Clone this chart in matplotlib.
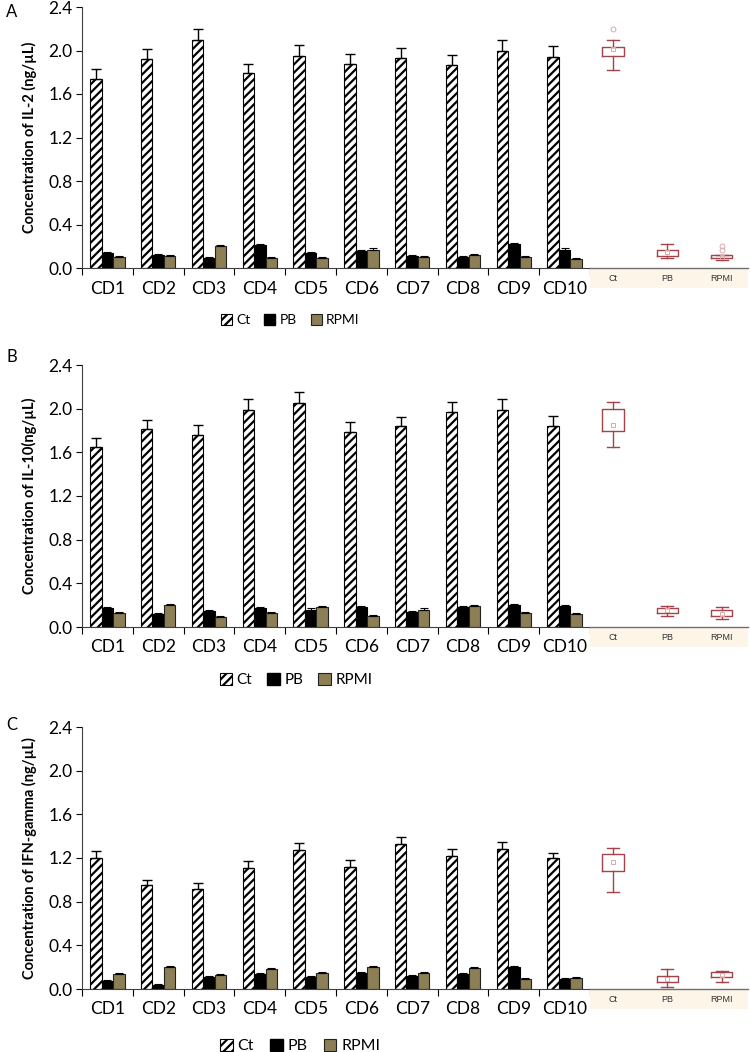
import matplotlib
matplotlib.use("Agg")
import matplotlib.pyplot as plt
from matplotlib.patches import Patch, Rectangle
import numpy as np

plt.rcParams['font.family'] = ['Lato', 'DejaVu Sans']
plt.rcParams['hatch.linewidth'] = 1.6

categories = ["CD1", "CD2", "CD3", "CD4", "CD5", "CD6", "CD7", "CD8", "CD9", "CD10"]
series_names = ["Ct", "PB", "RPMI"]

# Panel A: IL-2
il2_ct = [1.74, 1.92, 2.10, 1.79, 1.95, 1.88, 1.93, 1.87, 2.00, 1.94]
il2_ct_err = [0.09, 0.09, 0.10, 0.09, 0.10, 0.09, 0.09, 0.09, 0.10, 0.10]
il2_pb = [0.14, 0.12, 0.09, 0.21, 0.14, 0.16, 0.11, 0.10, 0.22, 0.17]
il2_rpmi = [0.10, 0.11, 0.20, 0.09, 0.09, 0.17, 0.10, 0.12, 0.10, 0.08]

# Panel B: IL-10
il10_ct = [1.65, 1.81, 1.76, 1.99, 2.05, 1.79, 1.84, 1.97, 1.99, 1.84]
il10_ct_err = [0.08, 0.09, 0.09, 0.10, 0.10, 0.09, 0.08, 0.09, 0.10, 0.09]
il10_pb = [0.17, 0.12, 0.15, 0.17, 0.16, 0.18, 0.14, 0.18, 0.20, 0.19]
il10_rpmi = [0.13, 0.20, 0.09, 0.13, 0.18, 0.10, 0.16, 0.19, 0.13, 0.12]

# Panel C: IFN-gamma
ifn_ct = [1.20, 0.95, 0.92, 1.11, 1.27, 1.12, 1.33, 1.22, 1.28, 1.20]
ifn_ct_err = [0.06, 0.05, 0.05, 0.06, 0.07, 0.06, 0.06, 0.06, 0.07, 0.05]
ifn_pb = [0.07, 0.04, 0.11, 0.14, 0.11, 0.15, 0.12, 0.14, 0.20, 0.09]
ifn_rpmi = [0.14, 0.20, 0.13, 0.18, 0.15, 0.20, 0.15, 0.19, 0.09, 0.10]

small_err = 0.01

# Box-plot summaries (whislo, q1, q3, whishi, mean, fliers) for Ct, PB, RPMI
il2_box = [(1.82, 1.95, 2.03, 2.10, 2.01, [2.20]),
           (0.09, 0.11, 0.17, 0.22, 0.15, []),
           (0.07, 0.09, 0.12, 0.12, 0.10, [0.17, 0.20])]
il10_box = [(1.65, 1.80, 2.00, 2.06, 1.85, []),
            (0.10, 0.13, 0.17, 0.19, 0.155, []),
            (0.07, 0.10, 0.155, 0.18, 0.12, [])]
ifn_box = [(0.89, 1.08, 1.24, 1.29, 1.16, []),
           (0.02, 0.06, 0.12, 0.18, 0.09, []),
           (0.06, 0.11, 0.16, 0.165, 0.13, [])]

ylabels = ["Concentration of IL-2 (ng/µL)", "Concentration of IL-10(ng/µL)",
           "Concentration of IFN-gamma (ng/µL)"]
letters = ["A", "B", "C"]

W, H = 750, 1052
fig = plt.figure(figsize=(W / 100, H / 100), dpi=100)

OLIVE = "#8c7f55"
BOXRED = "#a3434b"

panels = [
    (il2_ct, il2_ct_err, il2_pb, il2_rpmi, il2_box, 7, 268, 12, (290, 320), 10),
    (il10_ct, il10_ct_err, il10_pb, il10_rpmi, il10_box, 365, 627, 357, (296, 680), 11),
    (ifn_ct, ifn_ct_err, ifn_pb, ifn_rpmi, ifn_box, 727, 989, 725, (300, 1046), 11.5),
]

x = np.arange(len(categories))
bw = 0.226

for i, (ct, cte, pb, rp, box, ytop, ybot, lety, legpos, legfs) in enumerate(panels):
    left, right = 82, 590
    ax = fig.add_axes([left / W, 1 - ybot / H, (right - left) / W, (ybot - ytop) / H])
    ax.bar(x - bw, ct, bw, color="white", edgecolor="black", hatch="////", linewidth=0.8, zorder=2)
    ax.bar(x, pb, bw, color="black", edgecolor="black", linewidth=0.8, zorder=2)
    ax.bar(x + bw, rp, bw, color=OLIVE, edgecolor="#222222", linewidth=0.8, zorder=2)
    ax.errorbar(x - bw, ct, yerr=[np.zeros(len(ct)), cte], fmt="none", ecolor="black",
                elinewidth=1.0, capsize=3.5, capthick=1.0, zorder=3)
    ax.errorbar(x, pb, yerr=[np.zeros(len(pb)), [small_err] * len(pb)], fmt="none",
                ecolor="black", elinewidth=0.8, capsize=3, capthick=0.8, zorder=3)
    ax.errorbar(x + bw, rp, yerr=[np.zeros(len(rp)), [small_err] * len(rp)], fmt="none",
                ecolor="black", elinewidth=0.8, capsize=3, capthick=0.8, zorder=3)
    ax.set_xlim(-0.5, len(categories) - 0.5)
    ax.set_ylim(0, 2.4)
    ax.set_yticks(np.arange(0, 2.41, 0.4))
    ax.set_yticklabels([f"{v:.1f}" for v in np.arange(0, 2.41, 0.4)], fontsize=12.5)
    ax.set_xticks(x)
    ax.set_xticklabels(categories, fontsize=12.5)
    ax.set_xticks(np.arange(-0.5, len(categories), 1.0), minor=True)
    ax.tick_params(axis="x", which="major", length=0, pad=9)
    ax.tick_params(axis="x", which="minor", length=5, direction="out", width=0.8)
    ax.tick_params(axis="y", length=4, direction="out", width=0.8, pad=3)
    for s in ["top", "right"]:
        ax.spines[s].set_visible(False)
    ax.spines["left"].set_color("#404040")
    ax.spines["bottom"].set_color("#404040")
    ax.set_ylabel(ylabels[i], fontsize=10.5, fontweight="bold")
    ax.yaxis.set_label_coords(-0.088, 0.5)
    fig.text(6 / W, 1 - lety / H, letters[i], fontsize=12, va="center", ha="left")

    # box plot area
    bx = fig.add_axes([590 / W, 1 - ybot / H, 158 / W, (ybot - ytop) / H])
    stats = []
    for (lo, q1, q3, hi, mean, fl) in box:
        stats.append(dict(whislo=lo, q1=q1, med=mean, q3=q3, whishi=hi, mean=mean, fliers=fl))
    bx.bxp(stats, positions=[0, 1, 2], widths=0.39, showmeans=True, showfliers=True,
           boxprops=dict(color=BOXRED, linewidth=1.0),
           whiskerprops=dict(color=BOXRED, linewidth=1.0),
           capprops=dict(color=BOXRED, linewidth=1.0),
           medianprops=dict(linewidth=0),
           meanprops=dict(marker="s", markersize=3.5, markerfacecolor="none",
                          markeredgecolor="#dba8ad", markeredgewidth=0.7),
           flierprops=dict(marker="o", markersize=3.5, markerfacecolor="none",
                           markeredgecolor="#dba8ad", markeredgewidth=0.7),
           capwidths=0.22)
    bx.set_xlim(-0.42, 2.48)
    bx.set_ylim(0, 2.4)
    bx.set_xticks([])
    bx.set_yticks([])
    for s in ["top", "right", "left"]:
        bx.spines[s].set_visible(False)
    bx.spines["bottom"].set_color("#707070")
    bx.spines["bottom"].set_linewidth(1.0)
    strip_h = 20 / (ybot - ytop)
    bx.add_patch(Rectangle((0, -strip_h), 1, strip_h, transform=bx.transAxes,
                           facecolor="#fdf5e8", edgecolor="none", clip_on=False, zorder=0))
    for j, nm in enumerate(series_names):
        bx.text(j, -strip_h / 2, nm, transform=bx.get_xaxis_transform(), ha="center",
                va="center", fontsize=6.5, family="Liberation Sans", color="#333333")

    handles = [Patch(facecolor="white", edgecolor="black", hatch="////", linewidth=0.8),
               Patch(facecolor="black", edgecolor="black"),
               Patch(facecolor=OLIVE, edgecolor="#222222", linewidth=0.8)]
    fig.legend(handles, series_names, loc="center",
               bbox_to_anchor=(legpos[0] / W, 1 - legpos[1] / H), ncol=3, frameon=False,
               fontsize=legfs, handlelength=0.8, handleheight=0.8, handletextpad=0.3,
               columnspacing=1.0)

fig.savefig("out.png", dpi=100)
